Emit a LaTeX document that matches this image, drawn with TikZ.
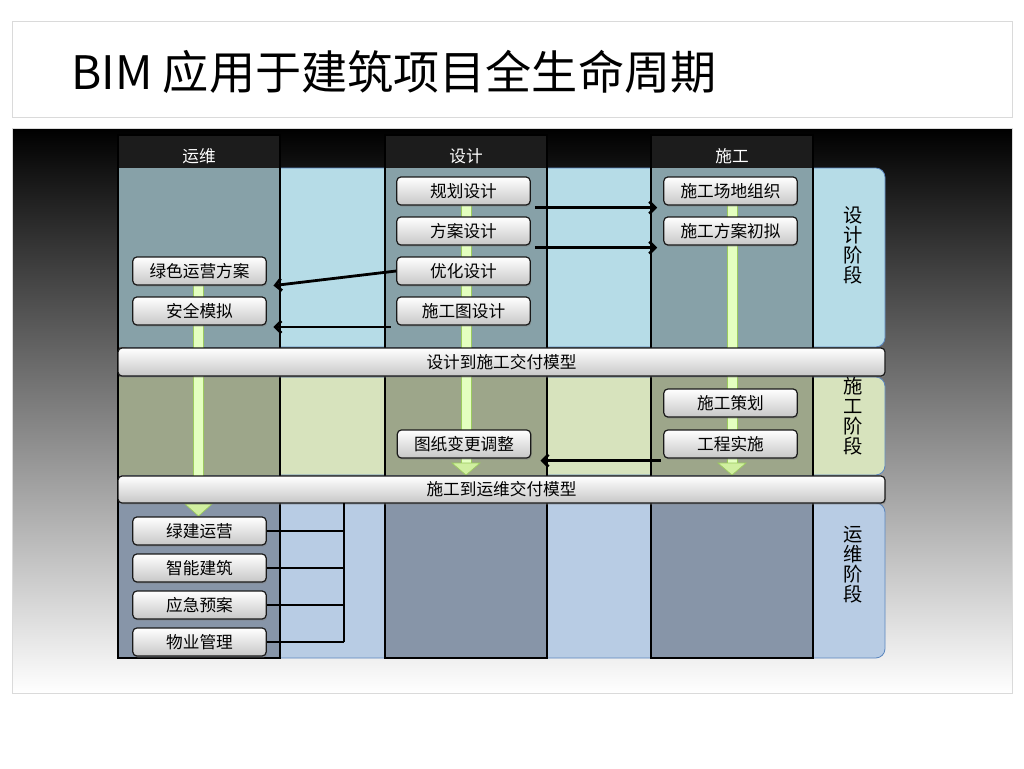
\documentclass[tikz,border=0pt]{standalone}
\usepackage{fontspec}
\setmainfont{Noto Sans CJK SC}
\usepackage{tikz}
\usetikzlibrary{arrows.meta,shadows}

\definecolor{frameline}{HTML}{DADADA}
\definecolor{rim}{HTML}{5B86BE}
\definecolor{dlight}{HTML}{B6DCE7}
\definecolor{ddark}{HTML}{87A1A8}
\definecolor{clight}{HTML}{D7E3BD}
\definecolor{cdark}{HTML}{9DA68A}
\definecolor{olight}{HTML}{B8CCE4}
\definecolor{odark}{HTML}{8795A8}
\definecolor{headfill}{HTML}{1C1C1C}
\definecolor{barfill}{HTML}{E4FFC0}
\definecolor{baredge}{HTML}{9CCB5E}
\definecolor{trifill}{HTML}{D0EFA0}

\begin{document}
\begin{tikzpicture}[x=0.75pt,y=0.75pt,
    task/.style={draw=black!90, line width=0.9pt, rounded corners=3pt,
      top color=white, bottom color=black!22, minimum width=100pt,
      minimum height=21pt, inner sep=0pt, font=\fontsize{12.5}{13}\selectfont,
      drop shadow={shadow xshift=0.8pt, shadow yshift=-1.2pt, opacity=0.45}},
    band/.style={task, minimum width=575.25pt},
    head/.style={text=white, font=\fontsize{12.5}{13}\selectfont},
    stage/.style={align=center, inner sep=0pt, font=\fontsize{14.5}{15}\selectfont},
    flow/.style={line width=2.1pt, -{Straight Barb[length=4.5pt,width=9pt]}},
    link/.style={line width=2.1pt},
    col/.style={draw=black, line width=1.9pt},
    bar/.style={fill=barfill, draw=baredge, line width=0.5pt},
    tri/.style={fill=trifill, draw=baredge, line width=0.5pt}]

  \useasboundingbox (0,0) rectangle (1024,-768);
  \fill[white] (0,0) rectangle (1024,-768);

  % title
  \draw[frameline] (12,-21) rectangle (1012,-117);
  \node[anchor=west, inner sep=0pt, font=\fontsize{34.6}{36}\selectfont] (title) at (71,-72) {BIM 应用于建筑项目全生命周期};

  % dark panel
  \shade[top color=black, middle color=black!40, bottom color=white] (12,-128) rectangle (1012,-693);
  \draw[frameline] (12,-128) rectangle (1012,-693);

  % stages
  \filldraw[fill=dlight, draw=rim, line width=0.6pt, rounded corners=7pt] (118,-168) rectangle (885,-347);
  \filldraw[fill=clight, draw=rim, line width=0.6pt, rounded corners=7pt] (118,-377) rectangle (885,-475);
  \filldraw[fill=olight, draw=rim, line width=0.6pt, rounded corners=7pt] (118,-503) rectangle (885,-658);

  % columns
  \foreach \x in {118,385,651} {
    \fill[ddark] (\x,-168) rectangle ++(162,-179);
    \fill[cdark] (\x,-377) rectangle ++(162,-98);
    \fill[odark] (\x,-503) rectangle ++(162,-155);
    \fill[headfill] (\x,-135) rectangle ++(162,-33);
    \draw[col] (\x,-135) rectangle ++(162,-523);
  }
  \node[head] (hyw) at (199,-156) {运维};
  \node[head] (hsj) at (466,-156) {设计};
  \node[head] (hsg) at (732,-156) {施工};

  % green flow bars
  \draw[bar] (193,-271) rectangle (203,-476);
  \draw[bar] (461,-191) rectangle (471,-463);
  \draw[bar] (727,-191) rectangle (737,-463);
  \draw[tri] (452,-463) -- (480,-463) -- (466,-475) -- cycle;
  \draw[tri] (718,-463) -- (746,-463) -- (732,-475) -- cycle;
  \draw[tri] (185,-504) -- (212,-504) -- (198.5,-516) -- cycle;

  % hand-over bands
  \node[band] (dband) at (501.5,-362) {设计到施工交付模型};
  \node[band, minimum height=20.25pt] (cband) at (501.5,-489.5) {施工到运维交付模型};

  % tasks
  \node[task] (plan) at (463.5,-191) {规划设计};
  \node[task] (scheme) at (463.5,-231) {方案设计};
  \node[task] (optim) at (463.5,-271) {优化设计};
  \node[task] (cdraw) at (463.5,-311) {施工图设计};
  \node[task] (site) at (730.5,-191) {施工场地组织};
  \node[task] (cprep) at (730.5,-231) {施工方案初拟};
  \node[task] (green) at (199.5,-271) {绿色运营方案};
  \node[task] (safety) at (199.5,-311) {安全模拟};
  \node[task] (cplan) at (730.5,-403) {施工策划};
  \node[task] (cexec) at (730.5,-444) {工程实施};
  \node[task] (change) at (464,-444) {图纸变更调整};
  \node[task] (gop) at (199.5,-531) {绿建运营};
  \node[task] (smart) at (199.5,-568) {智能建筑};
  \node[task] (emerg) at (199.5,-605) {应急预案};
  \node[task] (prop) at (199.5,-642) {物业管理};

  % stage labels
  \node[stage] (sdes) at (853,-245) {设\\计\\阶\\段};
  \node[stage] (scon) at (853,-416) {施\\工\\阶\\段};
  \node[stage] (sops) at (853,-565) {运\\维\\阶\\段};

  % arrows
  \draw[flow] ([xshift=3pt,yshift=-1.5pt]plan.south east) -- ([xshift=-4.5pt,yshift=-1.5pt]site.south west);
  \draw[flow] ([xshift=3pt,yshift=-1.5pt]scheme.south east) -- ([xshift=-4.5pt,yshift=-1.5pt]cprep.south west);
  \draw[flow] (optim.west) -- ([xshift=5pt]green.south east);
  \draw[flow] ([xshift=-4pt,yshift=-1pt]cdraw.south west) -- ([xshift=5pt,yshift=-1pt]safety.south east);
  \draw[flow] ([xshift=-2pt,yshift=-1.5pt]cexec.south west) -- ([xshift=7pt,yshift=-1.5pt]change.south east);

  % operation tasks
  \coordinate (bus) at (344,-503);
  \draw[link] (bus) -- (bus |- prop.east);
  \foreach \b in {gop,smart,emerg,prop}
    \draw[link] (\b.east) -- (\b.east -| bus);
\end{tikzpicture}
\end{document}
